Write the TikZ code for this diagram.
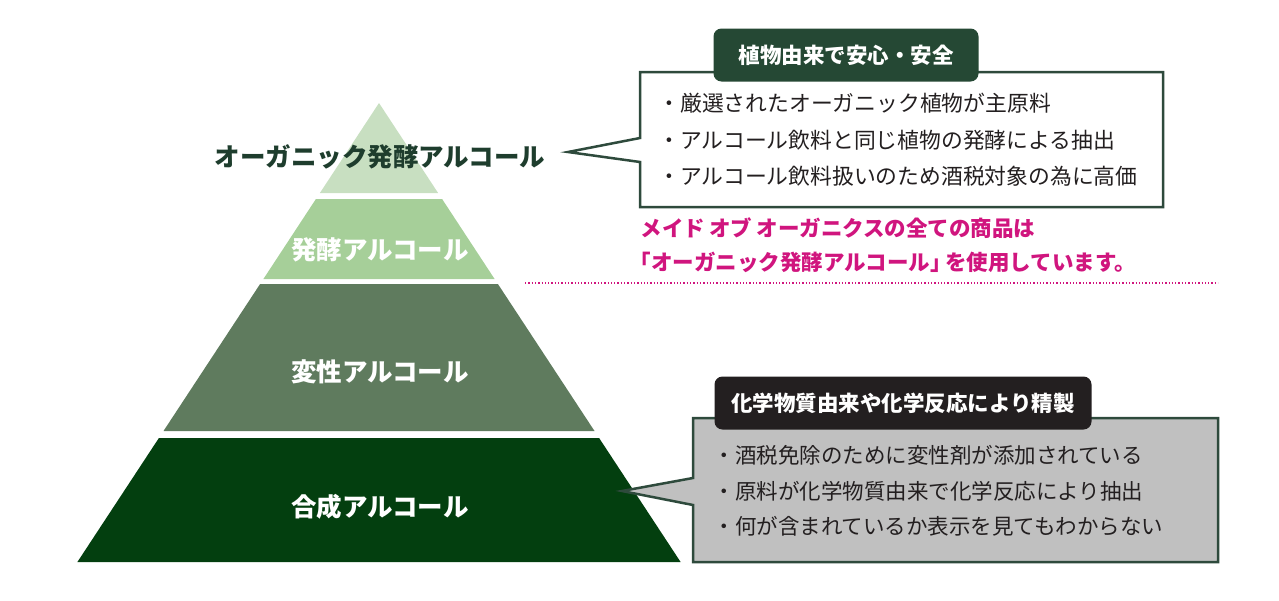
\documentclass[tikz,border=0pt]{standalone}
\usepackage{fontspec}
\setmainfont{Noto Sans CJK JP}
\usetikzlibrary{positioning}
\definecolor{lvla}{HTML}{C8DFC1}
\definecolor{lvlb}{HTML}{A6CF99}
\definecolor{lvlc}{HTML}{5F7B5E}
\definecolor{lvld}{HTML}{033F0F}
\definecolor{deepgreen}{HTML}{1E3D2D}
\definecolor{tabgreen}{HTML}{254834}
\definecolor{edgegreen}{HTML}{2E4A3C}
\definecolor{tabblack}{HTML}{231F20}
\definecolor{boxgray}{HTML}{C0C0C0}
\definecolor{inktext}{HTML}{231F20}
\definecolor{pinkink}{HTML}{D0157E}
\tikzset{
  lvltext/.style={font=\fontsize{25.5}{30}\selectfont\bfseries, text=white},
  tabbox/.style={rounded corners=8pt, minimum height=53pt, text=white,
    font=\fontsize{21.5}{24}\selectfont\bfseries},
  bullets/.style={anchor=west, align=left, text=inktext,
    font=\fontsize{21.8}{36.5}\selectfont},
  callout/.style={draw=edgegreen, line width=2.5pt, line join=miter}
}
\begin{document}
\begin{tikzpicture}[x=1pt,y=-1pt]
      \useasboundingbox (0,0) rectangle (1279,600);
      % pyramid
      \fill[lvla] (379,103) -- (438.1,193) -- (319.9,193) -- cycle;
      \fill[lvlb] (315.9,199) -- (442.1,199) -- (494.6,279) -- (263.4,279) -- cycle;
      \fill[lvlc] (260.1,284) -- (497.9,284) -- (594.5,431) -- (163.5,431) -- cycle;
      \fill[lvld] (158.9,438) -- (599.1,438) -- (680.6,562) -- (77.4,562) -- cycle;
      \node[lvltext, text=deepgreen] (organic) at (380,157) {オーガニック発酵アルコール};
      \node[lvltext] (ferment) at (380,250) {発酵アルコール};
      \node[lvltext] (denat) at (380,372) {変性アルコール};
      \node[lvltext] (synth) at (380,507) {合成アルコール};
      % upper callout
      \coordinate (orgtip) at (568,152);
      \filldraw[callout, fill=white] (640,72) -- (1163,72) -- (1163,207) -- (640,207)
        -- (640,162) -- (orgtip) -- (640,138) -- cycle;
      \node[tabbox, fill=tabgreen, minimum width=265pt] (orgtab) at (846,55) {植物由来で安心・安全};
      \node[bullets] (orglist) at (655,140) {・厳選されたオーガニック植物が主原料\\
        ・アルコール飲料と同じ植物の発酵による抽出\\
        ・アルコール飲料扱いのため酒税対象の為に高価};
      % note
      \node[anchor=west, align=left, text=pinkink,
        font=\fontsize{21.5}{34}\selectfont\bfseries] (note) at (637,245)
        {メイド\hspace{0.2em}オブ\hspace{0.2em}オーガニクスの全ての商品は\\
        \hspace*{-0.5em}「オーガニック発酵アルコール」\hspace{-0.3em}を使用しています。};
      \coordinate (dotl) at (525,283);
      \coordinate (dotr) at (1218,283);
      \draw[pinkink, line width=1.3pt, dotted] (dotl) -- (dotr);
      % lower callout
      \coordinate (syntip) at (622,491);
      \filldraw[callout, fill=boxgray] (693,418) -- (1218,418) -- (1218,562) -- (693,562)
        -- (693,505) -- (syntip) -- (693,478) -- cycle;
      \node[tabbox, fill=tabblack, minimum width=377pt] (syntab) at (903,403) {化学物質由来や化学反応により精製};
      \node[bullets, font=\fontsize{21.5}{35.5}\selectfont] (synlist) at (710,491) {・酒税免除のために変性剤が添加されている\\
        ・原料が化学物質由来で化学反応により抽出\\
        ・何が含まれているか表示を見てもわからない};
    \end{tikzpicture}
\end{document}
